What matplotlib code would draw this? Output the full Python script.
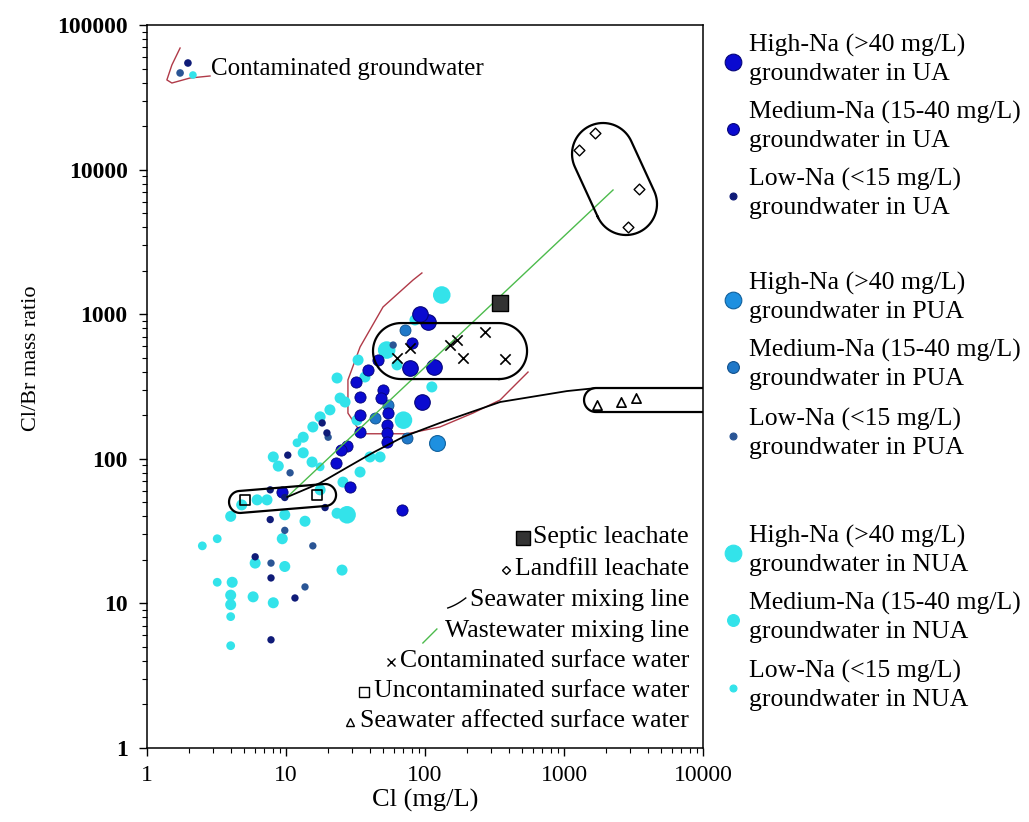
import numpy as np
import matplotlib
matplotlib.use('Agg')
import matplotlib.pyplot as plt
from matplotlib.ticker import LogLocator, NullFormatter, FuncFormatter

plt.rcParams['font.family'] = ['Liberation Serif', 'DejaVu Serif']

# groundwater samples, Cl (mg/L) and Cl/Br mass ratio
ua_high_cl = [78, 116, 95, 105, 92]
ua_high_ratio = [425, 431, 247, 883, 1000]
ua_med_cl = [81, 46, 39, 32, 34, 50, 48, 54, 34, 53, 34, 53, 53, 27.5, 25, 23, 29, 68, 9.4]
ua_med_ratio = [632, 482, 411, 340, 268, 299, 263, 207, 201, 171, 153, 151, 131, 122, 115, 94, 64, 44, 59]
ua_low_cl = [18.2, 19.7, 10.3, 7.7, 9.8, 19.1, 7.7, 6.0, 7.8, 11.6, 7.8]
ua_low_ratio = [177, 151, 106, 61, 54, 46, 38, 21, 15, 10.9, 5.6]

pua_high_cl = [122]
pua_high_ratio = [128]
pua_med_cl = [72, 54, 44, 74]
pua_med_ratio = [778, 236, 191, 139]
pua_low_cl = [20.1, 10.7, 9.8, 15.6, 7.8, 13.7, 59]
pua_low_ratio = [141, 80, 32, 25, 19, 13, 612]

nua_high_cl = [132, 70, 27.5, 53]
nua_high_ratio = [1358, 185, 41, 565]
nua_med_cl = [84.7, 62.9, 37, 23.3, 33, 112, 24.5, 26.6, 32.4, 20.7, 17.6, 15.6, 13.3, 8.1,
              8.8, 13.3, 15.4, 40.2, 47.5, 34.1, 25.7, 23.3, 13.7, 9.8, 17.6, 4.0, 4.8, 6.2,
              7.3, 9.4, 6.0, 9.8, 25.3, 4.1, 4.0, 5.8, 8.1, 4.0]
nua_med_ratio = [912, 446, 368, 362, 482, 314, 263, 247, 185, 218, 195, 166, 141, 103,
                 89, 110, 95, 103, 103, 81, 69, 42, 37, 41, 61, 40, 48, 52,
                 52, 28, 19, 18, 17, 14, 11.4, 11.1, 10.1, 9.8]
nua_low_cl = [2.5, 3.2, 3.2, 4.0, 4.0, 12, 17.6]
nua_low_ratio = [25, 28, 14, 8.1, 5.1, 129, 88]

# end members
septic_cl = [347]
septic_ratio = [1195]
landfill_cl = [1671, 1282, 3464, 2886]
landfill_ratio = [17900, 13670, 7340, 4010]
cont_sw_cl = [151, 170, 270, 188, 376, 63, 78]
cont_sw_ratio = [612, 663, 753, 498, 490, 498, 580]
uncont_sw_cl = [5.07, 16.7]
uncont_sw_ratio = [51.9, 56.2]
sea_sw_cl = [1727, 2570, 3296]
sea_sw_ratio = [236, 247, 263]

# mixing lines
waste_line_cl = [10.2, 2253]
waste_line_ratio = [54.4, 7228]
sea_line_cl = [10.2, 17.6, 28, 42, 70, 128, 347, 1050, 1727, 10000]
sea_line_ratio = [54.4, 68, 88, 110, 142, 177, 247, 294, 309, 309]

# contaminated groundwater envelope
env_cl = [95, 82, 49.9, 34.1, 27.9, 27.9, 32.4, 35.8, 74.3, 128, 221, 347, 409, 551]
env_ratio = [1928, 1723, 1122, 593, 351, 207, 166, 149, 149, 166, 207, 255, 299, 398]

# small key for "Contaminated groundwater"
key_cl = [1.73, 1.51, 1.39, 1.51, 2.04, 2.84]
key_ratio = [69300, 52900, 41700, 39700, 43000, 44400]

W, H = 1029, 822
fig = plt.figure(figsize=(W / 100, H / 100), dpi=100)
ax = fig.add_axes([147 / W, 74 / H, 556 / W, 723 / H])
ax.set_xscale('log')
ax.set_yscale('log')
ax.set_xlim(1, 10000)
ax.set_ylim(1, 100000)
sx = 556 / 4.0
sy = 723 / 5.0


def stadium(p1, p2, r, n=40):
    u1, v1 = np.log10(p1[0]) * sx, np.log10(p1[1]) * sy
    u2, v2 = np.log10(p2[0]) * sx, np.log10(p2[1]) * sy
    a = np.arctan2(v2 - v1, u2 - u1)
    t1 = np.linspace(a - np.pi / 2, a + np.pi / 2, n)
    t2 = np.linspace(a + np.pi / 2, a + 3 * np.pi / 2, n)
    u = np.concatenate([u2 + r * np.cos(t1), u1 + r * np.cos(t2), [u2 + r * np.cos(t1[0])]])
    v = np.concatenate([v2 + r * np.sin(t1), v1 + r * np.sin(t2), [v2 + r * np.sin(t1[0])]])
    return 10 ** (u / sx), 10 ** (v / sy)


ua_c, ua_e = '#0a0ad0', '#05057a'
ual_c = '#0f1b78'
puah_c, puam_c, pual_c = '#1e90e0', '#1f78c8', '#2a5595'
nua_c = '#33e3ea'

# NUA first, then PUA, then UA on top
ax.scatter(nua_med_cl, nua_med_ratio, s=63, c=nua_c, edgecolors='none', zorder=3)
ax.scatter(nua_low_cl, nua_low_ratio, s=40, c=nua_c, edgecolors='none', zorder=3)
ax.scatter(nua_high_cl, nua_high_ratio, s=160, c=nua_c, edgecolors='none', zorder=3)
ax.scatter(pua_high_cl, pua_high_ratio, s=130, c=puah_c, edgecolors='#10609c', linewidths=0.8, zorder=4)
ax.scatter(pua_med_cl, pua_med_ratio, s=63, c=puam_c, edgecolors='#10508c', linewidths=0.6, zorder=4)
ax.scatter(pua_low_cl, pua_low_ratio, s=28, c=pual_c, edgecolors='none', zorder=4)
ax.scatter(ua_high_cl, ua_high_ratio, s=125, c=ua_c, edgecolors=ua_e, linewidths=0.8, zorder=5)
ax.scatter(ua_med_cl, ua_med_ratio, s=65, c=ua_c, edgecolors=ua_e, linewidths=0.6, zorder=5)
ax.scatter(ua_low_cl, ua_low_ratio, s=28, c=ual_c, edgecolors='none', zorder=5)

# lines
ax.plot(env_cl, env_ratio, color='#b03a48', lw=1.0, zorder=2)
ax.plot(waste_line_cl, waste_line_ratio, color='#4cbb4c', lw=1.0, zorder=6)
ax.plot(sea_line_cl, sea_line_ratio, color='black', lw=1.3, zorder=6)

# end members
ax.scatter(septic_cl, septic_ratio, s=140, marker='s', c='#333333', edgecolors='black', zorder=7)
ax.scatter(landfill_cl, landfill_ratio, s=30, marker='D', facecolors='white', edgecolors='black',
           linewidths=1.0, zorder=7)
ax.scatter(cont_sw_cl, cont_sw_ratio, s=55, marker='x', c='black', linewidths=1.2, zorder=7)
ax.scatter(uncont_sw_cl, uncont_sw_ratio, s=55, marker='s', facecolors='none', edgecolors='black',
           linewidths=1.2, zorder=7)
ax.scatter(sea_sw_cl, sea_sw_ratio, s=45, marker='^', facecolors='white', edgecolors='black',
           linewidths=1.2, zorder=7)

# enclosing boxes
for p1, p2, r in [((1909, 12820), (2793, 5781), 31),
                  ((67.2, 556), (341, 556), 28),
                  ((4.67, 50.3), (19.1, 56.2), 11),
                  ((1700, 255), (30000, 255), 12)]:
    bx, by = stadium(p1, p2, r)
    ax.plot(bx, by, color='black', lw=1.6, zorder=6)

# contaminated groundwater key
ax.plot(key_cl, key_ratio, color='#b03a48', lw=1.0, zorder=6)
ax.scatter([1.97], [54600], s=30, c=ual_c, edgecolors='none', zorder=7)
ax.scatter([1.73], [46600], s=30, c=pual_c, edgecolors='none', zorder=7)
ax.scatter([2.14], [45100], s=30, c=nua_c, edgecolors='none', zorder=7)
ax.text(2.9, 50000, 'Contaminated groundwater', fontsize=18, va='center', ha='left')

# axes style
for sp in ax.spines.values():
    sp.set_linewidth(1.1)
ax.xaxis.set_major_locator(LogLocator(base=10, numticks=10))
ax.yaxis.set_major_locator(LogLocator(base=10, numticks=10))
ax.xaxis.set_minor_locator(LogLocator(base=10, subs=np.arange(2, 10), numticks=20))
ax.yaxis.set_minor_locator(LogLocator(base=10, subs=np.arange(2, 10), numticks=20))
ax.xaxis.set_minor_formatter(NullFormatter())
ax.yaxis.set_minor_formatter(NullFormatter())
fmt = FuncFormatter(lambda v, p: '%d' % int(round(v)))
ax.xaxis.set_major_formatter(fmt)
ax.yaxis.set_major_formatter(fmt)
ax.tick_params(which='major', direction='out', length=6, width=1, labelsize=17)
ax.tick_params(which='minor', direction='out', length=3.5, width=0.8)
ax.tick_params(axis='x', pad=6)
ax.tick_params(axis='y', pad=8)
for lab in ax.get_yticklabels():
    lab.set_fontweight('bold')

fig.text(425 / W, 1 - 800 / H, 'Cl (mg/L)', fontsize=19, ha='center', va='center')
fig.text(32 / W, 1 - 358 / H, 'Cl/Br mass ratio', fontsize=16, rotation=90, ha='center', va='center')

# overlay in pixel units for keys
ov = fig.add_axes([0, 0, 1, 1], facecolor='none')
ov.set_xlim(0, W)
ov.set_ylim(H, 0)
ov.axis('off')

# right-hand key
right_key = [
    ('High-Na (>40 mg/L)', 'groundwater in UA', ua_c, ua_e, 12, 45),
    ('Medium-Na (15-40 mg/L)', 'groundwater in UA', ua_c, ua_e, 8.5, 112),
    ('Low-Na (<15 mg/L)', 'groundwater in UA', ual_c, ual_c, 5, 179),
    ('High-Na (>40 mg/L)', 'groundwater in PUA', puah_c, '#10609c', 12, 283),
    ('Medium-Na (15-40 mg/L)', 'groundwater in PUA', puam_c, '#10508c', 8.5, 350),
    ('Low-Na (<15 mg/L)', 'groundwater in PUA', pual_c, pual_c, 5, 419),
    ('High-Na (>40 mg/L)', 'groundwater in NUA', nua_c, nua_c, 12, 536),
    ('Medium-Na (15-40 mg/L)', 'groundwater in NUA', nua_c, nua_c, 8.5, 603),
    ('Low-Na (<15 mg/L)', 'groundwater in NUA', nua_c, nua_c, 5, 671),
]
for l1, l2, fc, ec, ms, y in right_key:
    ov.text(749, y, l1, fontsize=18.5, ha='left', va='center')
    ov.text(749, y + 29, l2, fontsize=18.5, ha='left', va='center')
    ov.plot([733], [y + 17], marker='o', ms=ms, mfc=fc, mec=ec, mew=0.8, ls='none')

# bottom key inside the plot
bottom_key = ['Septic leachate', 'Landfill leachate', 'Seawater mixing line', 'Wastewater mixing line',
              'Contaminated surface water', 'Uncontaminated surface water',
              'Seawater affected surface water']
key_y = [537, 569, 600, 631, 661, 691, 721]
texts = []
for lab, y in zip(bottom_key, key_y):
    texts.append(ov.text(689, y, lab, fontsize=18.5, ha='right', va='center'))

fig.canvas.draw()
rend = fig.canvas.get_renderer()
for i, (t, y) in enumerate(zip(texts, key_y)):
    x0 = t.get_window_extent(rend).x0
    yc = y + 1
    if i == 0:
        ov.plot([x0 - 10], [yc], marker='s', ms=10, mfc='#333333', mec='black', ls='none')
    elif i == 1:
        ov.plot([x0 - 9], [yc], marker='D', ms=4.5, mfc='white', mec='black', mew=1.0, ls='none')
    elif i == 2:
        tt = np.linspace(0, 1, 10)
        ov.plot(x0 - 22 + 18 * tt, yc + 7 - 10 * tt + 4 * tt * (1 - tt), color='black', lw=1.0)
    elif i == 3:
        ov.plot([x0 - 22, x0 - 8], [yc + 11, yc - 3], color='#4cbb4c', lw=1.0)
    elif i == 4:
        ov.plot([x0 - 9], [yc], marker='x', ms=6, mec='black', mew=1.0, ls='none')
    elif i == 5:
        ov.plot([x0 - 10], [yc], marker='s', ms=7, mfc='white', mec='black', mew=1.0, ls='none')
    else:
        ov.plot([x0 - 10], [yc], marker='^', ms=6, mfc='white', mec='black', mew=1.0, ls='none')

fig.savefig('out.png', dpi=100)
